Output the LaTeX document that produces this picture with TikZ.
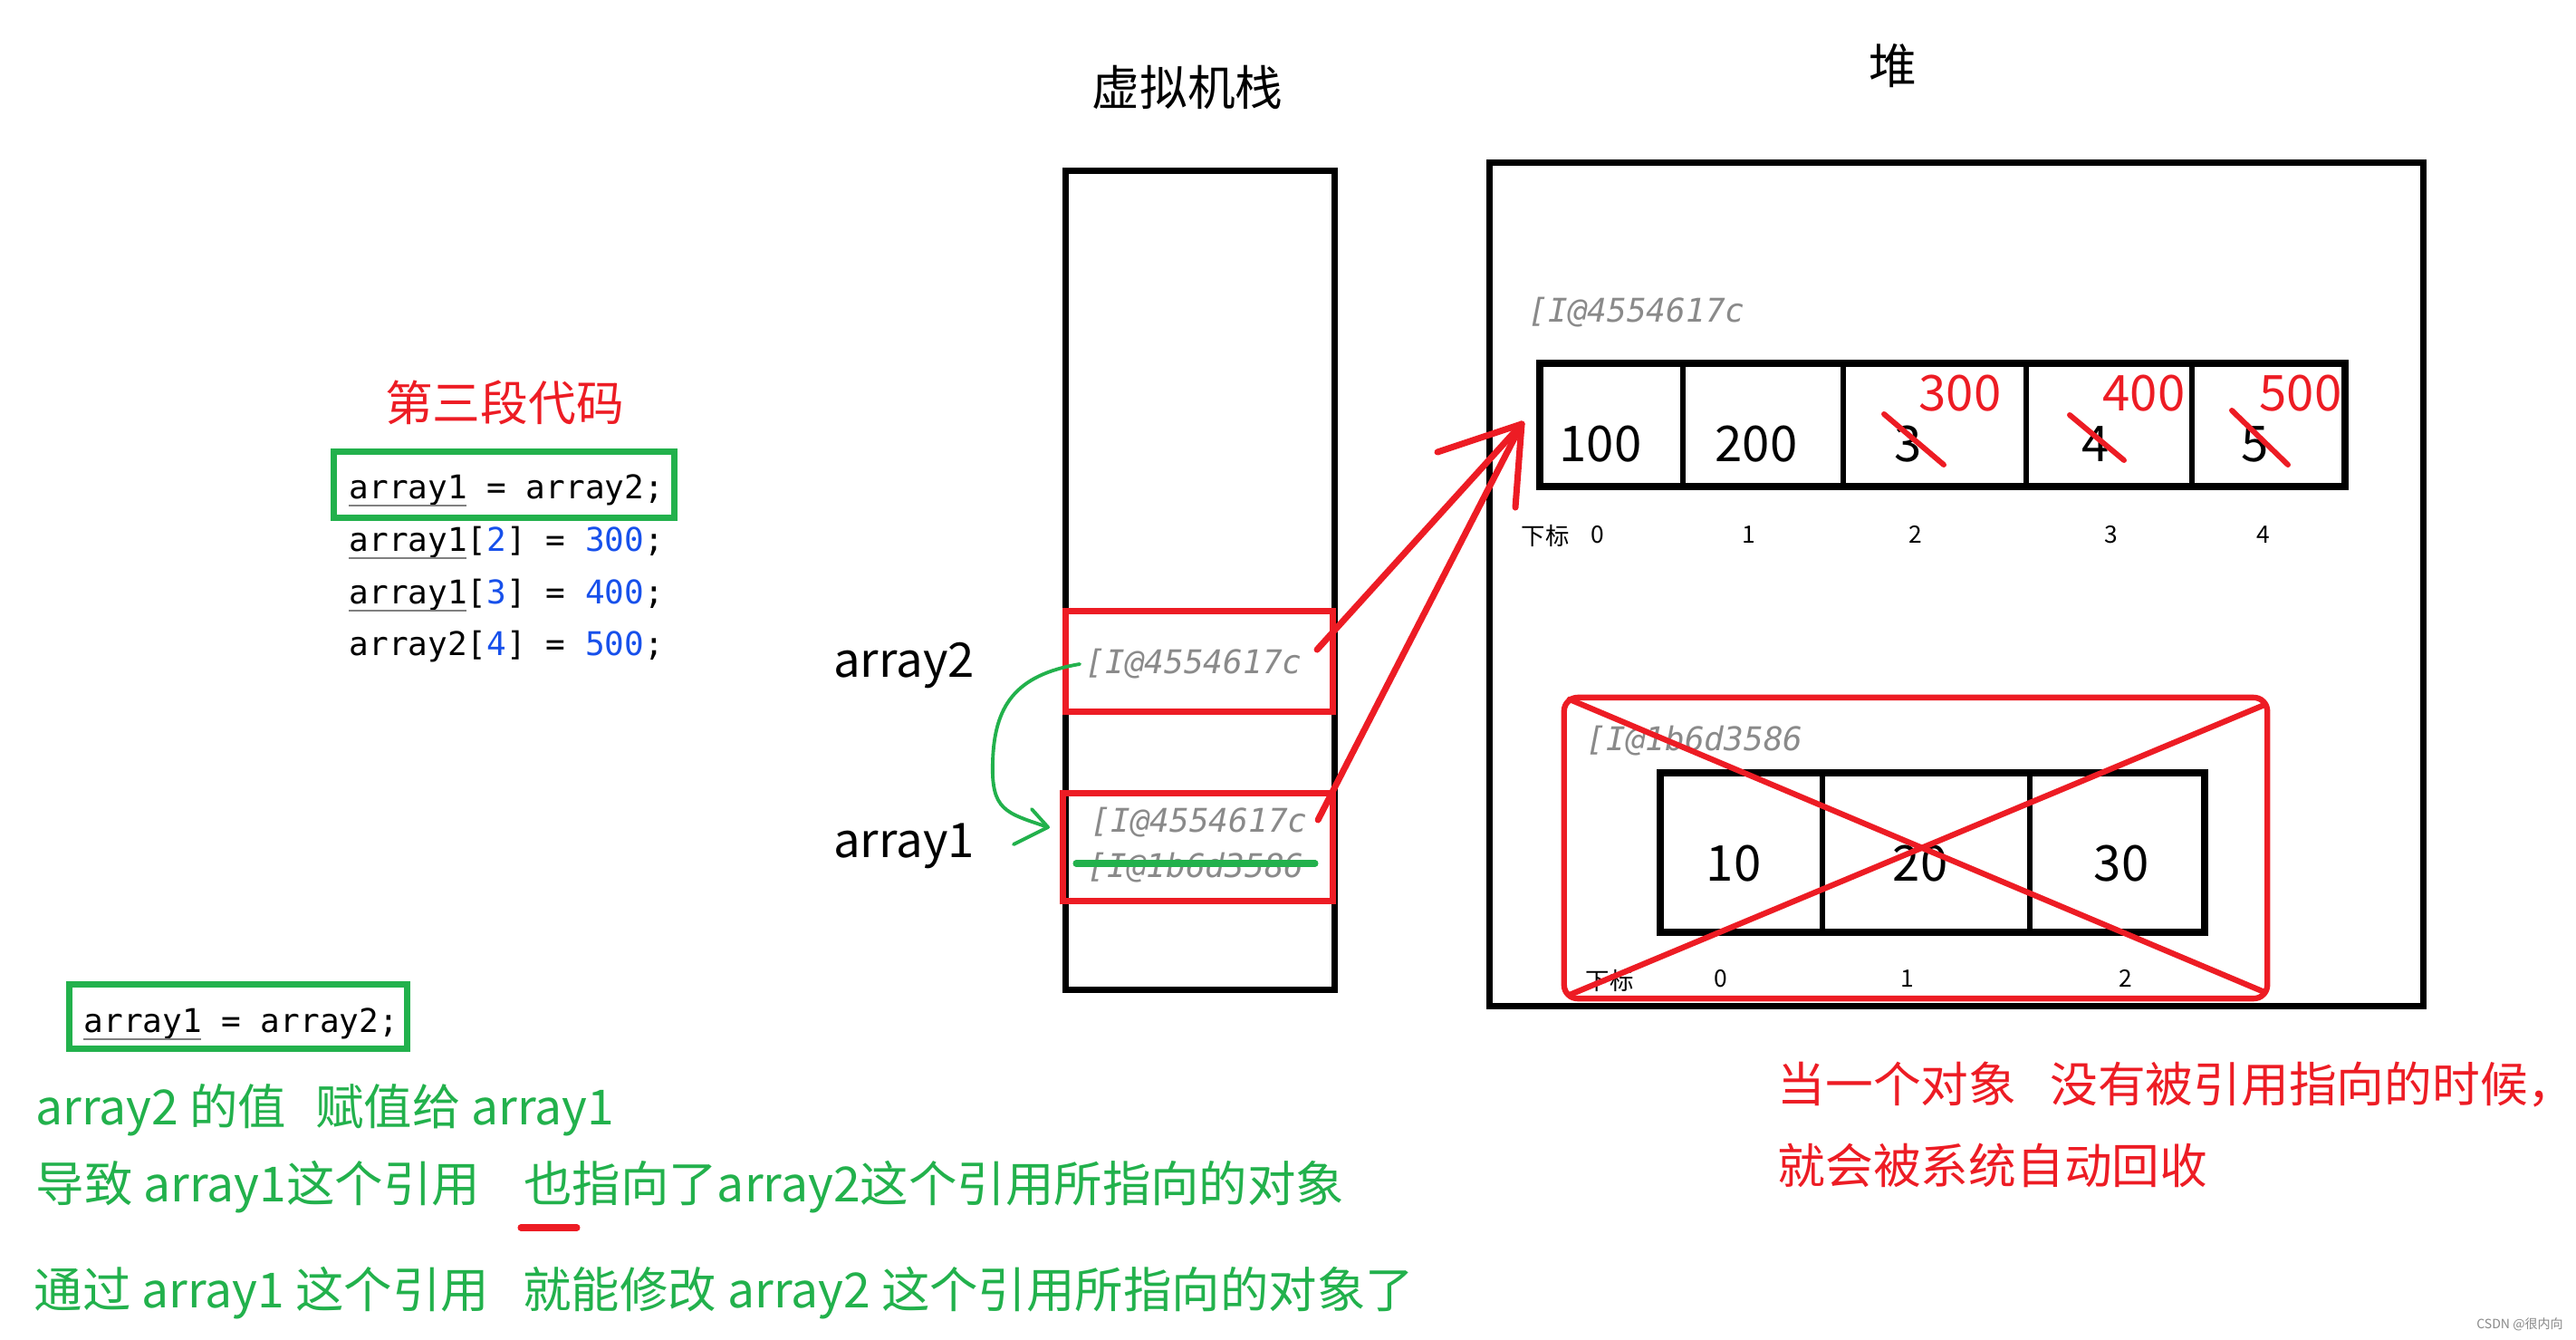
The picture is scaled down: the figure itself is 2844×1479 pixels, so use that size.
\documentclass[tikz,border=0pt]{standalone}
\usepackage{fontspec}
\setmainfont{Noto Sans CJK SC}
\newfontfamily\cjk{Noto Sans CJK SC}
\newfontfamily\monof{DejaVu Sans Mono}[ItalicFont={DejaVu Sans Mono Oblique}]
\definecolor{pred}{HTML}{ED1C24}
\definecolor{pgreen}{HTML}{22B14C}
\definecolor{addrgray}{HTML}{8A8A8A}
\definecolor{codeblue}{HTML}{1750EB}
\definecolor{ulgray}{HTML}{808080}
\tikzset{
  blkbox/.style={draw=black, line width=2pt, inner sep=0pt, outer sep=0pt},
  redbox/.style={draw=pred, line width=2pt, inner sep=0pt, outer sep=0pt},
  grnbox/.style={draw=pgreen, line width=2pt, inner sep=0pt, outer sep=0pt},
  big/.style={font=\fontsize{15pt}{18pt}\selectfont, inner sep=0pt},
  gtxt/.style={font=\fontsize{15.2pt}{18pt}\selectfont, inner sep=0pt, text=pgreen, anchor=west},
  num/.style={font=\fontsize{15.5pt}{18pt}\selectfont, inner sep=0pt},
  idx/.style={font=\fontsize{7.5pt}{9pt}\selectfont, inner sep=0pt},
  code/.style={font=\monof\fontsize{10.25pt}{12pt}\selectfont, inner sep=0pt, anchor=base west},
  addr/.style={font=\monof\itshape\fontsize{10.25pt}{12pt}\selectfont, text=addrgray, inner sep=0pt, anchor=base west},
  redln/.style={draw=pred, line width=2pt, line cap=round, line join=round},
  strikeln/.style={draw=pred, line width=1.7pt, line cap=round},
  grnln/.style={draw=pgreen, line width=1.1pt, line cap=round, line join=round},
  ulln/.style={draw=ulgray, line width=0.8pt},
  divln/.style={draw=black, line width=1.6pt},
}
\newcommand{\cb}[1]{\textcolor{codeblue}{#1}}
\begin{document}
\begin{tikzpicture}[x=0.01cm,y=-0.01cm]
\useasboundingbox[fill=white] (0,0) rectangle (2844,1479);

% ---------- left: code ----------
\node[big, text=pred] (t3) at (557,444) {第三段代码};
\node[grnbox, minimum width=3.76cm, minimum height=0.72cm] (g1) at (556.5,535) {};
\node[code] (c1) at (385,550) {array1 = array2;};
\node[code] (c2) at (385,608) {array1[\cb{2}] = \cb{300};};
\node[code] (c3) at (385,666) {array1[\cb{3}] = \cb{400};};
\node[code] (c4) at (385,723) {array2[\cb{4}] = \cb{500};};
\draw[ulln] ([shift={(0,8)}]c1.base west) -- ++(130,0);
\draw[ulln] ([shift={(0,8)}]c2.base west) -- ++(130,0);
\draw[ulln] ([shift={(0,8)}]c3.base west) -- ++(130,0);

% ---------- stack ----------
\node[big] (ttl) at (1311,96) {虚拟机栈};
\node[blkbox, minimum width=2.96cm, minimum height=9.03cm] (stack) at (1325,640.5) {};
\node[redbox, minimum width=2.94cm, minimum height=1.10cm] (r1) at (1324,730) {};
\node[redbox, minimum width=2.97cm, minimum height=1.18cm] (r2) at (1322.5,935) {};
\node[big] (l2) at (998,735) {array2};
\node[big] (l1) at (998,934) {array1};
\node[addr] (a2) at (1198,743) {[I@4554617c};
\node[addr] (a1) at (1204,918) {[I@4554617c};
\node[addr] (a1old) at (1200,968) {[I@1b6d3586};
\draw[draw=pgreen, line width=2pt, line cap=round] ([shift={(-12,-15)}]a1old.base west) -- ++(264,0);

% green curved arrow
\coordinate (gtip) at (1157,913);
\draw[grnln] ([shift={(-6,-10)}]a2.base west) .. controls (1120,745) and (1098,780) .. (1096,840)
  .. controls (1094,895) and (1110,897) .. (gtip);
\draw[grnln] ([shift={(-18,-20)}]gtip) -- (gtip) -- ([shift={(-38,19)}]gtip);

% ---------- heap ----------
\node[big] (hpttl) at (2090,73) {堆};
\node[blkbox, minimum width=10.30cm, minimum height=9.30cm] (heap) at (2160,645) {};

\node[addr] (h1addr) at (1687,356) {[I@4554617c};
\node[blkbox, line width=2.3pt, minimum width=8.89cm, minimum height=1.36cm] (arr1) at (2144.5,469) {};
\draw[divln] (1858,401) -- (1858,537);
\draw[divln] (2035,401) -- (2035,537);
\draw[divln] (2237,401) -- (2237,537);
\draw[divln] (2420,401) -- (2420,537);
\node[num] (n0) at (1767,490) {100};
\node[num] (n1) at (1939,490) {200};
\node[num] (n2) at (2107,490) {3};
\node[num] (n3) at (2314,490) {4};
\node[num] (n4) at (2490,490) {5};
\node[num, text=pred] (m2) at (2164,434) {300};
\node[num, text=pred] (m3) at (2367,434) {400};
\node[num, text=pred] (m4) at (2540,434) {500};
\draw[strikeln] (2080,457) -- (2146,513);
\draw[strikeln] (2285,458) -- (2345,508);
\draw[strikeln] (2464,453) -- (2526,513);
\node[idx] (ix1) at (1706,591) {下标};
\node[idx] (i0) at (1764,590) {0};
\node[idx] (i1) at (1931,590) {1};
\node[idx] (i2) at (2115,590) {2};
\node[idx] (i3) at (2331,590) {3};
\node[idx] (i4) at (2499,590) {4};

\node[addr] (h2addr) at (1751,828) {[I@1b6d3586};
\node[blkbox, line width=2.3pt, minimum width=6.01cm, minimum height=1.76cm] (arr2) at (2133.5,941) {};
\draw[divln] (2012,853) -- (2012,1029);
\draw[divln] (2241,853) -- (2241,1029);
\node[num] (p0) at (1914,953) {10};
\node[num] (p1) at (2120,953) {20};
\node[num] (p2) at (2342,953) {30};
\node[idx] (ix2) at (1777,1082) {下标};
\node[idx] (j0) at (1900,1080) {0};
\node[idx] (j1) at (2106,1080) {1};
\node[idx] (j2) at (2347,1080) {2};

\node[redbox, line width=1.8pt, rounded corners=0.15cm, minimum width=7.76cm, minimum height=3.32cm] (gc) at (2115,936) {};
\draw[redln, line width=1.8pt] ([shift={(6,2)}]gc.north west) -- ([shift={(-3,-7)}]gc.south east);
\draw[redln, line width=1.8pt] ([shift={(-3,8)}]gc.north east) -- ([shift={(6,-4)}]gc.south west);

% red pointer arrows
\coordinate (tip) at (1680,468);
\draw[redln] ([shift={(-17,-13)}]r1.east) -- (tip);
\draw[redln] ([shift={(-16,-30)}]r2.east) -- (tip);
\draw[redln] ([shift={(-93,31)}]tip) -- (tip) -- ([shift={(-7,92)}]tip);

% ---------- bottom left ----------
\node[grnbox, minimum width=3.73cm, minimum height=0.71cm] (g2) at (263,1122) {};
\node[code] (c5) at (92,1139) {array1 = array2;};
\draw[ulln] ([shift={(0,8)}]c5.base west) -- ++(130,0);

\node[gtxt] (gt1) at (39,1225) {array2 的值\hspace{0.6em}赋值给 array1};
\node[gtxt] (gt2) at (39,1310) {导致 array1这个引用\hspace{0.9em}也指向了array2这个引用所指向的对象};
\draw[draw=pred, line width=2pt, line cap=round] (575,1355) -- (637,1355);
\node[gtxt] (gt3) at (37,1427) {通过 array1 这个引用\hspace{0.7em}就能修改 array2 这个引用所指向的对象了};

% ---------- bottom right ----------
\node[big, text=pred, anchor=west] (rt1) at (1962,1197) {当一个对象\hspace{0.7em}没有被引用指向的时候，};
\node[big, text=pred, anchor=west] (rt2) at (1962,1286) {就会被系统自动回收};

\node[font=\fontsize{4pt}{5pt}\selectfont, text=addrgray, inner sep=0pt] (wm) at (2782,1462) {CSDN @很内向};
\end{tikzpicture}
\end{document}
